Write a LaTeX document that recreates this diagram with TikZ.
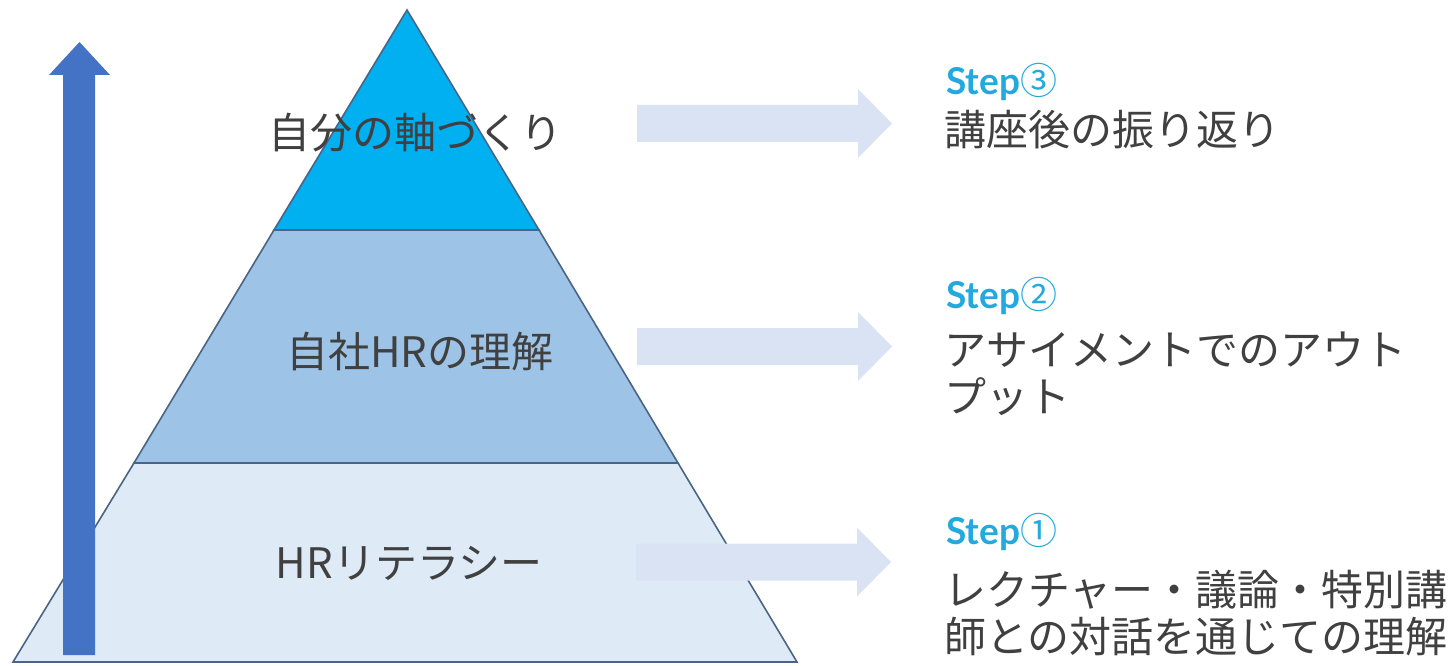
\documentclass[tikz,border=0pt]{standalone}
\usepackage{fontspec}
\newfontfamily\jpf{Noto Sans CJK JP}
\newfontfamily\latof{Lato}
\definecolor{bandtop}{HTML}{00B0F0}
\definecolor{bandmid}{HTML}{9DC3E6}
\definecolor{bandlow}{HTML}{DEEBF7}
\definecolor{edgecol}{HTML}{4A6484}
\definecolor{uparrow}{HTML}{4472C4}
\definecolor{harrowcol}{HTML}{DAE3F3}
\definecolor{stepcol}{HTML}{23A9DD}
\definecolor{textcol}{HTML}{404040}
\tikzset{
  band/.style={draw=edgecol, line width=1.6pt, line join=miter},
  pyrlabel/.style={font=\jpf\fontsize{42}{47}\selectfont, text=textcol, inner sep=0pt},
  steplabel/.style={font=\latof\bfseries\fontsize{37}{44}\selectfont, text=stepcol, inner sep=0pt, anchor=west},
  desclabel/.style={font=\jpf\fontsize{42}{47}\selectfont, text=textcol, inner sep=0pt, anchor=west, align=left},
  blockarrow/.pic={\fill[harrowcol] (0,-18.5) -- (221,-18.5) -- (221,-34.5) -- (255,0) -- (221,34.5) -- (221,18.5) -- (0,18.5) -- cycle;}
}
\begin{document}
\begin{tikzpicture}[x=1pt,y=-1pt]
\useasboundingbox (0,0) rectangle (1451,666);
% pyramid corners
\coordinate (apex) at (407,10);
\coordinate (tl) at (274,230);
\coordinate (tr) at (539,230);
\coordinate (ml) at (134,463);
\coordinate (mr) at (678,463);
\coordinate (bl) at (13,662);
\coordinate (br) at (797,662);
\filldraw[band, fill=bandlow] (ml) -- (mr) -- (br) -- (bl) -- cycle;
\filldraw[band, fill=bandmid] (tl) -- (tr) -- (mr) -- (ml) -- cycle;
\filldraw[band, fill=bandtop] (apex) -- (tr) -- (tl) -- cycle;
% vertical arrow
\fill[uparrow] (63,655) -- (63,75) -- (49,75) -- (79.5,42) -- (110,75) -- (95,75) -- (95,655) -- cycle;
% pyramid labels
\node[pyrlabel] (lvl3) at (415,133) {自分の軸づくり};
\node[pyrlabel] (lvl2) at (420,352) {自社HRの理解};
\node[pyrlabel] (lvl1) at (409,563) {HRリテラシー};
% horizontal arrows
\pic at (637,123.5) {blockarrow};
\pic at (637,346.5) {blockarrow};
\pic at (636,562) {blockarrow};
% right texts
\node[steplabel] (s3) at (946,82) {Step{\jpf\mdseries ③}};
\node[desclabel] (d3) at (944,130) {講座後の振り返り};
\node[steplabel] (s2) at (946,296) {Step{\jpf\mdseries ②}};
\node[desclabel] (d2) at (944,374) {アサイメントでのアウト\\プット};
\node[steplabel] (s1) at (946,532) {Step{\jpf\mdseries ①}};
\node[desclabel] (d1) at (944,613.5) {レクチャー・議論・特別講\\師との対話を通じての理解};
\end{tikzpicture}
\end{document}
